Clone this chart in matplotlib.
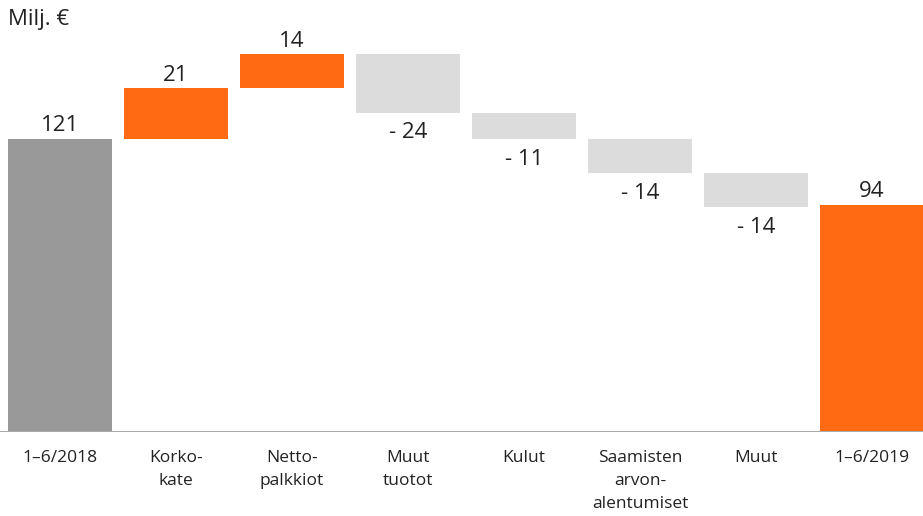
import matplotlib.pyplot as plt

plt.rcParams['font.family'] = ['Open Sans', 'DejaVu Sans']

kategoriat = ['1–6/2018', 'Korko-\nkate', 'Netto-\npalkkiot', 'Muut\ntuotot', 'Kulut',
              'Saamisten\narvon-\nalentumiset', 'Muut', '1–6/2019']
alku = 121
muutokset = [21, 14, -24, -11, -14, -14]
loppu = 94
arvotekstit = ['121', '21', '14', '- 24', '- 11', '- 14', '- 14', '94']

# waterfall: pohjat ja korkeudet
pohjat = [0]
korkeudet = [alku]
taso = alku
for m in muutokset:
    if m >= 0:
        pohjat.append(taso)
    else:
        pohjat.append(taso + m)
    korkeudet.append(abs(m))
    taso += m
pohjat.append(0)
korkeudet.append(loppu)

varit = ['#999999'] + ['#FF6A13' if m >= 0 else '#DCDCDC' for m in muutokset] + ['#FF6A13']

fig = plt.figure(figsize=(9.23, 5.16), dpi=100)
ax = fig.add_axes([0, 84 / 516, 1, 432 / 516])

x = list(range(len(kategoriat)))
ax.bar(x, korkeudet, bottom=pohjat, width=104 / 116, color=varit)

for i in x:
    negatiivinen = 0 < i < len(kategoriat) - 1 and muutokset[i - 1] < 0
    if negatiivinen:
        ax.annotate(arvotekstit[i], (i, pohjat[i]), xytext=(0, -7), textcoords='offset points',
                    ha='center', va='top', fontsize=16, color='#222222')
    else:
        ax.annotate(arvotekstit[i], (i, pohjat[i] + korkeudet[i]), xytext=(0, 2), textcoords='offset points',
                    ha='center', va='bottom', fontsize=16, color='#222222')

ax.axhline(0, color='#AAAAAA', lw=1.5)
ax.set_xlim((0 - 60) / 116, (923 - 60) / 116)
ax.set_ylim(0, 432 / 2.42)
ax.set_xticks(x)
ax.set_xticklabels(kategoriat, fontsize=12.5, color='#222222', linespacing=1.6, va='top')
ax.tick_params(axis='x', length=0, pad=13)
ax.set_yticks([])
for s in ax.spines.values():
    s.set_visible(False)

fig.text(8 / 923, 1 - 19 / 516, 'Milj. €', fontsize=16, color='#222222', va='center', ha='left')

fig.savefig('out.png', dpi=100)
